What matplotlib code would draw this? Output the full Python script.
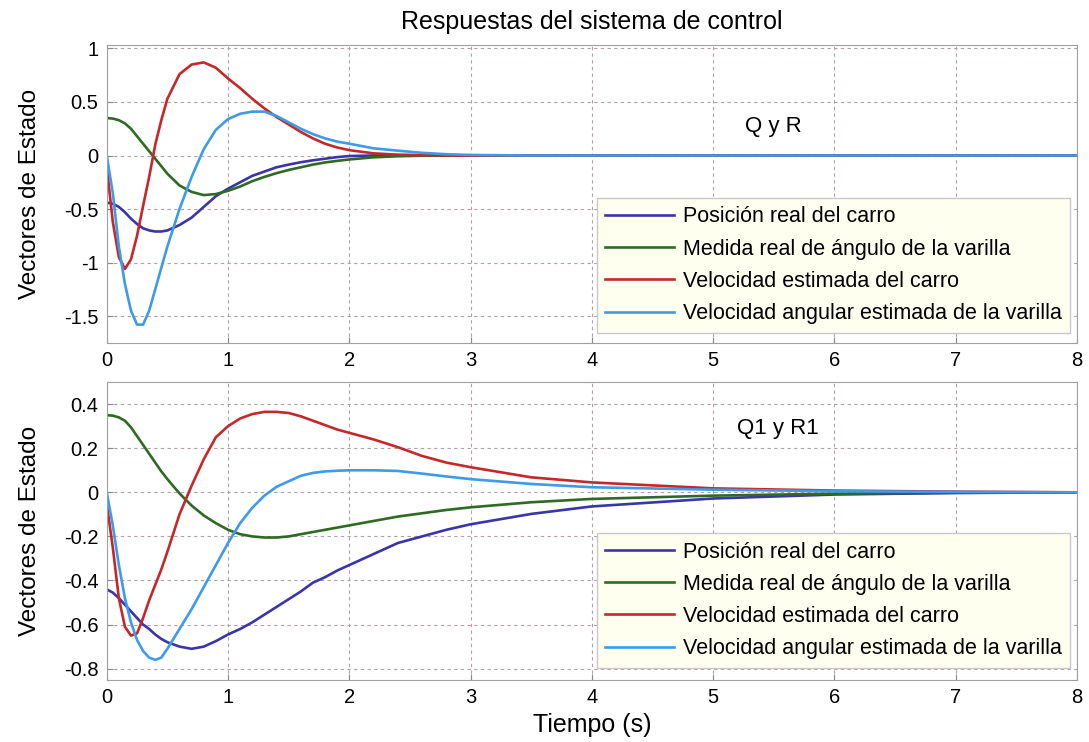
import matplotlib
matplotlib.use("Agg")
import matplotlib.pyplot as plt

# ---------------- data ----------------
t = [0, 0.05, 0.1, 0.15, 0.2, 0.25, 0.3, 0.35, 0.4, 0.45, 0.5, 0.6, 0.7, 0.8, 0.9,
     1.0, 1.1, 1.2, 1.3, 1.4, 1.5, 1.6, 1.7, 1.8, 1.9, 2.0, 2.2, 2.4, 2.6, 2.8,
     3.0, 3.5, 4, 5, 6, 7, 8]

# Top panel (Q y R)
pos_qr = [-0.44, -0.45, -0.48, -0.53, -0.59, -0.64, -0.68, -0.70, -0.71, -0.71, -0.70,
          -0.65, -0.58, -0.48, -0.38, -0.31, -0.25, -0.19, -0.15, -0.11, -0.085, -0.063,
          -0.045, -0.03, -0.015, -0.005, 0.0, 0.002, 0.002, 0.001, 0, 0, 0, 0, 0, 0, 0]
ang_qr = [0.35, 0.345, 0.33, 0.30, 0.25, 0.18, 0.11, 0.04, -0.03, -0.10, -0.17,
          -0.28, -0.34, -0.37, -0.36, -0.33, -0.29, -0.24, -0.20, -0.165, -0.135, -0.11,
          -0.085, -0.065, -0.05, -0.037, -0.017, -0.007, -0.002, 0, 0, 0, 0, 0, 0, 0, 0]
vel_qr = [-0.10, -0.62, -0.95, -1.06, -0.97, -0.75, -0.47, -0.20, 0.10, 0.33, 0.53,
          0.76, 0.85, 0.87, 0.82, 0.72, 0.63, 0.53, 0.44, 0.36, 0.29, 0.22,
          0.16, 0.11, 0.075, 0.05, 0.02, 0.008, 0.003, 0.001, 0, 0, 0, 0, 0, 0, 0]
angv_qr = [0.0, -0.35, -0.85, -1.2, -1.45, -1.58, -1.58, -1.45, -1.25, -1.05, -0.85,
           -0.50, -0.20, 0.06, 0.24, 0.34, 0.39, 0.41, 0.41, 0.37, 0.31, 0.25,
           0.20, 0.16, 0.13, 0.11, 0.067, 0.045, 0.025, 0.012, 0.005, 0, 0, 0, 0, 0, 0]

# Bottom panel (Q1 y R1)
pos_q1 = [-0.44, -0.455, -0.48, -0.51, -0.54, -0.57, -0.60, -0.62, -0.645, -0.665, -0.68,
          -0.70, -0.71, -0.70, -0.675, -0.645, -0.62, -0.59, -0.555, -0.52, -0.485, -0.45,
          -0.41, -0.385, -0.355, -0.33, -0.28, -0.23, -0.20, -0.17,
          -0.145, -0.098, -0.064, -0.028, -0.01, -0.003, 0]
ang_q1 = [0.35, 0.348, 0.34, 0.325, 0.295, 0.255, 0.215, 0.175, 0.135, 0.095, 0.06,
          -0.005, -0.06, -0.105, -0.14, -0.17, -0.19, -0.20, -0.205, -0.205, -0.20, -0.19,
          -0.18, -0.17, -0.16, -0.15, -0.13, -0.11, -0.095, -0.08,
          -0.068, -0.045, -0.03, -0.015, -0.006, -0.002, 0]
vel_q1 = [-0.05, -0.25, -0.48, -0.61, -0.65, -0.64, -0.57, -0.49, -0.42, -0.35, -0.27,
          -0.10, 0.03, 0.15, 0.25, 0.30, 0.335, 0.355, 0.365, 0.365, 0.36, 0.345,
          0.325, 0.305, 0.285, 0.27, 0.24, 0.205, 0.165, 0.135,
          0.114, 0.068, 0.045, 0.018, 0.008, 0.003, 0]
angv_q1 = [0.0, -0.15, -0.33, -0.48, -0.59, -0.67, -0.72, -0.75, -0.76, -0.75, -0.71,
           -0.62, -0.53, -0.43, -0.33, -0.23, -0.14, -0.07, -0.015, 0.025, 0.05, 0.075,
           0.088, 0.095, 0.098, 0.10, 0.10, 0.097, 0.085, 0.072,
           0.06, 0.038, 0.023, 0.012, 0.005, 0.002, 0]

labels = ["Posición real del carro",
          "Medida real de ángulo de la varilla",
          "Velocidad estimada del carro",
          "Velocidad angular estimada de la varilla"]
colors = ["#3a35a8", "#2f6a24", "#c4282a", "#3d9be9"]

xticks = [0, 1, 2, 3, 4, 5, 6, 7, 8]
xticklabels = ["0", "1", "2", "3", "4", "5", "6", "7", "8"]
yticks_top = [-1.5, -1, -0.5, 0, 0.5, 1]
yticklabels_top = ["-1.5", "-1", "-0.5", "0", "0.5", "1"]
yticks_bot = [-0.8, -0.6, -0.4, -0.2, 0, 0.2, 0.4]
yticklabels_bot = ["-0.8", "-0.6", "-0.4", "-0.2", "0", "0.2", "0.4"]

title = "Respuestas del sistema de control"
ylabel = "Vectores de Estado"
xlabel = "Tiempo (s)"
note_top = "Q y R"
note_bot = "Q1 y R1"

# ---------------- plot ----------------
plt.rcParams['font.family'] = ['Liberation Sans', 'DejaVu Sans']
plt.rcParams['axes.unicode_minus'] = False

fig = plt.figure(figsize=(10.89, 7.42), dpi=100)
ax1 = fig.add_axes([0.098, 0.538, 0.891, 0.401])
ax2 = fig.add_axes([0.098, 0.084, 0.891, 0.401])

panels = [
    (ax1, [pos_qr, ang_qr, vel_qr, angv_qr], (-1.75, 1.03), yticks_top, yticklabels_top,
     note_top, (5.5, 0.27), (0.993, 0.034)),
    (ax2, [pos_q1, ang_q1, vel_q1, angv_q1], (-0.85, 0.5), yticks_bot, yticklabels_bot,
     note_bot, (5.53, 0.29), (0.993, 0.04)),
]

for ax, series, ylim, yt, ytl, note, notepos, legpos in panels:
    for s, c, lab in zip(series, colors, labels):
        ax.plot(t, s, color=c, lw=1.9, label=lab)
    ax.set_xlim(0, 8)
    ax.set_ylim(*ylim)
    ax.set_xticks(xticks)
    ax.set_xticklabels(xticklabels)
    ax.set_yticks(yt)
    ax.set_yticklabels(ytl)
    ax.tick_params(direction='in', length=4, color='#888888', labelsize=14.5, pad=6)
    ax.grid(True, color='#b59ea6', linestyle=(0, (3, 3)), lw=0.8)
    for sp in ax.spines.values():
        sp.set_color('#a0a0a0')
    ax.set_ylabel(ylabel, fontsize=17.5)
    ax.yaxis.set_label_coords(-0.068, 0.5)
    ax.text(notepos[0], notepos[1], note, fontsize=16, ha='center', va='center')
    leg = ax.legend(loc='lower right', bbox_to_anchor=legpos, borderaxespad=0,
                    fontsize=15.5, handlelength=3.2, labelspacing=0.52,
                    fancybox=False, framealpha=1, borderpad=0.4, handletextpad=0.4)
    leg.get_frame().set_facecolor('#fffff0')
    leg.get_frame().set_edgecolor('#c8c8c8')

ax1.set_title(title, fontsize=18, pad=12)
ax2.set_xlabel(xlabel, fontsize=18, labelpad=4)

fig.savefig("out.png", dpi=100)
